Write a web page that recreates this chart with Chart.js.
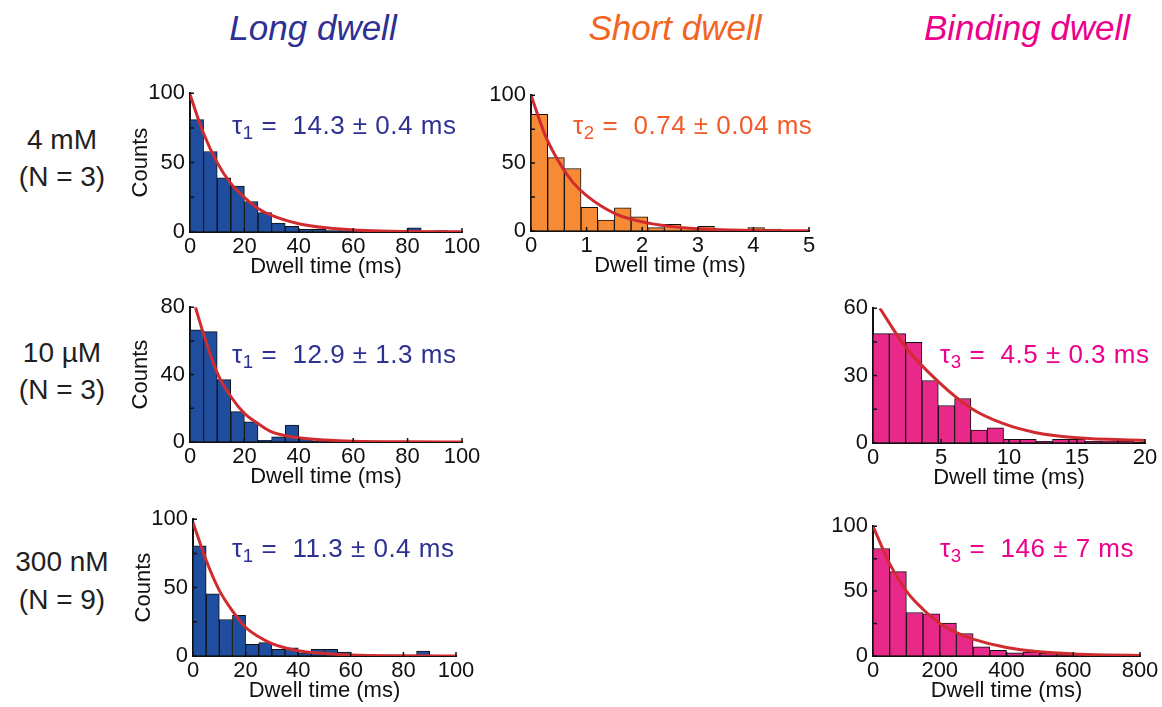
<!DOCTYPE html>
<html>
<head>
<meta charset="utf-8">
<script src="https://cdn.jsdelivr.net/npm/chart.js@4.4.1/dist/chart.umd.min.js"></script>
<style>
  body { margin: 0; background: #fff; width: 1162px; height: 707px; position: relative; overflow: hidden;
         font-family: "Liberation Sans", Arial, Helvetica, sans-serif; }
  canvas { position: absolute; }
  .t { position: absolute; white-space: nowrap; line-height: 1; }
  .t sub { font-size: 72%; vertical-align: -0.28em; line-height: 0; }
</style>
</head>
<body>
<script>
// ---- data ----
// long dwell, 4 mM (5 ms bins)
const long4mMTimes = [2.5, 7.5, 12.5, 17.5, 22.5, 27.5, 32.5, 37.5, 42.5, 47.5, 52.5, 57.5, 62.5, 67.5, 72.5, 77.5, 82.5, 87.5, 92.5, 97.5];
const long4mMCounts = [81, 58, 39, 33, 22, 14, 6.5, 4, 2, 2, 1, 1, 0.5, 0.3, 0.3, 0.3, 3, 0.3, 1, 0.3];
const long4mMFitX = [0, 5, 10, 15, 20, 25, 30, 40, 50, 60, 70, 80, 100];
const long4mMFitY = [99, 71, 50, 35, 25, 17, 12, 6, 3, 1.5, 0.7, 0.4, 0.1];

// short dwell, 4 mM (0.3 ms bins)
const short4mMTimes = [0.15, 0.45, 0.75, 1.05, 1.35, 1.65, 1.95, 2.25, 2.55, 2.85, 3.15, 3.45, 3.75, 4.05, 4.35, 4.65, 4.95];
const short4mMCounts = [86, 54, 46, 17.5, 8, 17, 10.5, 2.5, 5, 2, 3.5, 1.5, 1, 2.5, 1.5, 0.5, 0.3];
const short4mMFitX = [0, 0.25, 0.5, 0.75, 1, 1.5, 2, 2.5, 3, 4, 5];
const short4mMFitY = [100, 71, 51, 36, 26, 13, 6.7, 3.4, 1.7, 0.4, 0.1];

// long dwell, 10 uM (5 ms bins)
const long10uMTimes = long4mMTimes;
const long10uMCounts = [66.5, 65.5, 37, 18, 12, 1, 3, 10, 2, 0.5, 0.3, 0.3, 0.3, 0.3, 0.3, 0.3, 0.3, 0.3, 0.3, 0.3];
const long10uMFitX = [2, 5, 10, 15, 20, 25, 30, 40, 50, 60, 80, 100];
const long10uMFitY = [80, 64, 41, 27, 17, 11, 6, 2.5, 1.2, 0.5, 0.1, 0];

// binding dwell, 10 uM (1.2 ms bins)
const bind10uMTimes = [0.6, 1.8, 3.0, 4.2, 5.4, 6.6, 7.8, 9.0, 10.2, 11.4, 12.6, 13.8, 15.0, 16.2, 17.4, 18.6];
const bind10uMCounts = [48.7, 48.7, 44.8, 27.8, 16.7, 19.8, 5.8, 6.8, 1.6, 1.6, 0.7, 1.6, 1.6, 0.7, 0.8, 0.7];
const bind10uMFitX = [0.5, 2.4, 4.8, 7.2, 9.6, 12, 15, 20];
const bind10uMFitY = [60, 42.6, 27.3, 15.5, 8.6, 4.6, 2.3, 1.1];

// long dwell, 300 nM (5 ms bins)
const long300nMTimes = long4mMTimes;
const long300nMCounts = [80.5, 45.5, 26.7, 29.8, 8.6, 9.8, 4.8, 6, 2.4, 4.8, 4.8, 2.9, 0.7, 0.5, 0.5, 0.5, 0.5, 3.6, 0.5, 0.5];
const long300nMFitX = [0, 5, 10, 15, 20, 25, 30, 40, 50, 60, 80, 100];
const long300nMFitY = [97.6, 70, 48, 33, 21, 14, 9, 3.8, 1.9, 0.7, 0.2, 0.05];

// binding dwell, 300 nM (50 ms bins)
const bind300nMTimes = [25, 75, 125, 175, 225, 275, 325, 375, 425, 475, 525, 575, 625, 675, 725, 775];
const bind300nMCounts = [82.8, 65, 33.5, 32.5, 25.3, 17.3, 7, 4.3, 2.5, 3, 2, 1.5, 0.7, 0.7, 0.5, 0.3];
const bind300nMFitX = [0, 50, 100, 150, 200, 250, 300, 400, 500, 600, 700, 800];
const bind300nMFitY = [100, 71, 50, 36, 25, 18, 13, 6.5, 3.2, 1.6, 0.8, 0.4];

// ---- styling ----
const FONT = '"Liberation Sans", Arial, Helvetica, sans-serif';
const INK = '#111';
const FIT = '#d02b2f';
const BLUE = '#1f4e9f', ORANGE = '#f68a35', PINK = '#e8298a';
const M = { l: 75, r: 25, t: 15, b: 62 };

const inwardTicks = {
  id: 'inwardTicks',
  afterDatasetsDraw(chart) {
    const { ctx, chartArea: a, scales: { x, y } } = chart;
    ctx.save();
    ctx.strokeStyle = INK;
    ctx.lineWidth = 1.5;
    ctx.beginPath();
    y.ticks.forEach(t => {
      const py = y.getPixelForValue(t.value);
      ctx.moveTo(a.left, py); ctx.lineTo(a.left + 4, py);
    });
    x.ticks.forEach(t => {
      const px = x.getPixelForValue(t.value);
      ctx.moveTo(px, a.bottom); ctx.lineTo(px, a.bottom - 4);
    });
    ctx.stroke();
    ctx.restore();
  }
};

function panel(plot, times, counts, fitX, fitY, color, xMax, xStep, yMax, yStep, showCounts) {
  const cv = document.createElement('canvas');
  cv.width = plot.r - plot.l + M.l + M.r;
  cv.height = plot.b - plot.t + M.t + M.b;
  cv.style.left = (plot.l - M.l) + 'px';
  cv.style.top = (plot.t - M.t) + 'px';
  document.body.appendChild(cv);

  new Chart(cv, {
    type: 'bar',
    data: {
      datasets: [
        {
          type: 'line',
          data: fitX.map((x, i) => ({ x, y: fitY[i] })),
          borderColor: FIT, borderWidth: 3, pointRadius: 0,
          tension: 0.4, cubicInterpolationMode: 'monotone', order: 0
        },
        {
          type: 'bar',
          data: times.map((x, i) => ({ x, y: counts[i] })),
          backgroundColor: color, borderColor: INK, borderWidth: 1,
          barPercentage: 1, categoryPercentage: 1, order: 1
        }
      ]
    },
    options: {
      responsive: false,
      animation: false,
      devicePixelRatio: 1,
      layout: { padding: { left: 0, right: M.r, top: M.t, bottom: 0 } },
      plugins: { legend: { display: false }, tooltip: { enabled: false } },
      scales: {
        x: {
          type: 'linear', min: 0, max: xMax, offset: false,
          afterFit: s => { s.height = M.b; },
          ticks: { stepSize: xStep, padding: 2, color: INK, maxRotation: 0, autoSkip: false,
                   font: { size: 22, family: FONT } },
          grid: { drawOnChartArea: false, drawTicks: false },
          border: { color: INK, width: 2 },
          title: { display: true, text: 'Dwell time (ms)', color: INK,
                   font: { size: 22, family: FONT }, padding: { top: 0, bottom: 14 } }
        },
        y: {
          min: 0, max: yMax,
          afterFit: s => { s.width = M.l; },
          ticks: { stepSize: yStep, padding: 5, color: INK,
                   font: { size: 22, family: FONT },
                   callback: v => (v % (2 * yStep) === 0 ? String(v) : '') },
          grid: { drawOnChartArea: false, drawTicks: false },
          border: { color: INK, width: 2 },
          title: { display: showCounts, text: 'Counts', color: INK,
                   font: { size: 22, family: FONT }, padding: { top: 13, bottom: 0 } }
        }
      }
    },
    plugins: [inwardTicks]
  });
}

function text(html, x, baseline, size, color, opts = {}) {
  const d = document.createElement('div');
  d.className = 't';
  d.innerHTML = html;
  d.style.fontSize = size + 'px';
  d.style.color = color;
  d.style.left = x + 'px';
  d.style.top = (baseline - 0.85 * size) + 'px';
  if (opts.italic) d.style.fontStyle = 'italic';
  if (opts.center) d.style.transform = 'translateX(-50%)';
  if (opts.spacing) d.style.letterSpacing = opts.spacing + 'px';
  document.body.appendChild(d);
}

panel({ l: 190, r: 462, t: 90, b: 232 }, long4mMTimes, long4mMCounts, long4mMFitX, long4mMFitY, BLUE, 100, 20, 100, 25, true);
panel({ l: 531, r: 809, t: 92, b: 231 }, short4mMTimes, short4mMCounts, short4mMFitX, short4mMFitY, ORANGE, 5, 1, 100, 25, false);
panel({ l: 190, r: 462, t: 304, b: 442 }, long10uMTimes, long10uMCounts, long10uMFitX, long10uMFitY, BLUE, 100, 20, 80, 20, true);
panel({ l: 873, r: 1145, t: 305, b: 443 }, bind10uMTimes, bind10uMCounts, bind10uMFitX, bind10uMFitY, PINK, 20, 5, 60, 15, false);
panel({ l: 193, r: 456, t: 516, b: 656 }, long300nMTimes, long300nMCounts, long300nMFitX, long300nMFitY, BLUE, 100, 20, 100, 25, true);
panel({ l: 873, r: 1140, t: 523, b: 656 }, bind300nMTimes, bind300nMCounts, bind300nMFitX, bind300nMFitY, PINK, 800, 200, 100, 25, false);

// column titles
text('Long dwell', 313, 40, 35, '#2e3192', { italic: true, center: true });
text('Short dwell', 675, 40, 35, '#f26522', { italic: true, center: true });
text('Binding dwell', 1027, 40, 35, '#ec008c', { italic: true, center: true });

// row labels
const ROW = '#231f20';
text('4 mM', 62, 150, 28, ROW, { center: true });
text('(N = 3)', 62, 187, 28, ROW, { center: true });
text('10 µM', 62, 363, 28, ROW, { center: true });
text('(N = 3)', 62, 400, 28, ROW, { center: true });
text('300 nM', 62, 572, 28, ROW, { center: true });
text('(N = 9)', 62, 610, 28, ROW, { center: true });

// fitted time constants
const tauOpts = { spacing: 0.5 };
text('τ<sub>1</sub> = &nbsp;14.3 ± 0.4 ms', 232, 134, 26, '#2e3192', tauOpts);
text('τ<sub>2</sub> = &nbsp;0.74 ± 0.04 ms', 573, 134, 26, '#f15a29', tauOpts);
text('τ<sub>1</sub> = &nbsp;12.9 ± 1.3 ms', 232, 363, 26, '#2e3192', tauOpts);
text('τ<sub>3</sub> = &nbsp;4.5 ± 0.3 ms', 940, 363, 26, '#ec008c', tauOpts);
text('τ<sub>1</sub> = &nbsp;11.3 ± 0.4 ms', 232, 557, 26, '#2e3192', tauOpts);
text('τ<sub>3</sub> = &nbsp;146 ± 7 ms', 940, 557, 26, '#ec008c', tauOpts);
</script>
</body>
</html>
